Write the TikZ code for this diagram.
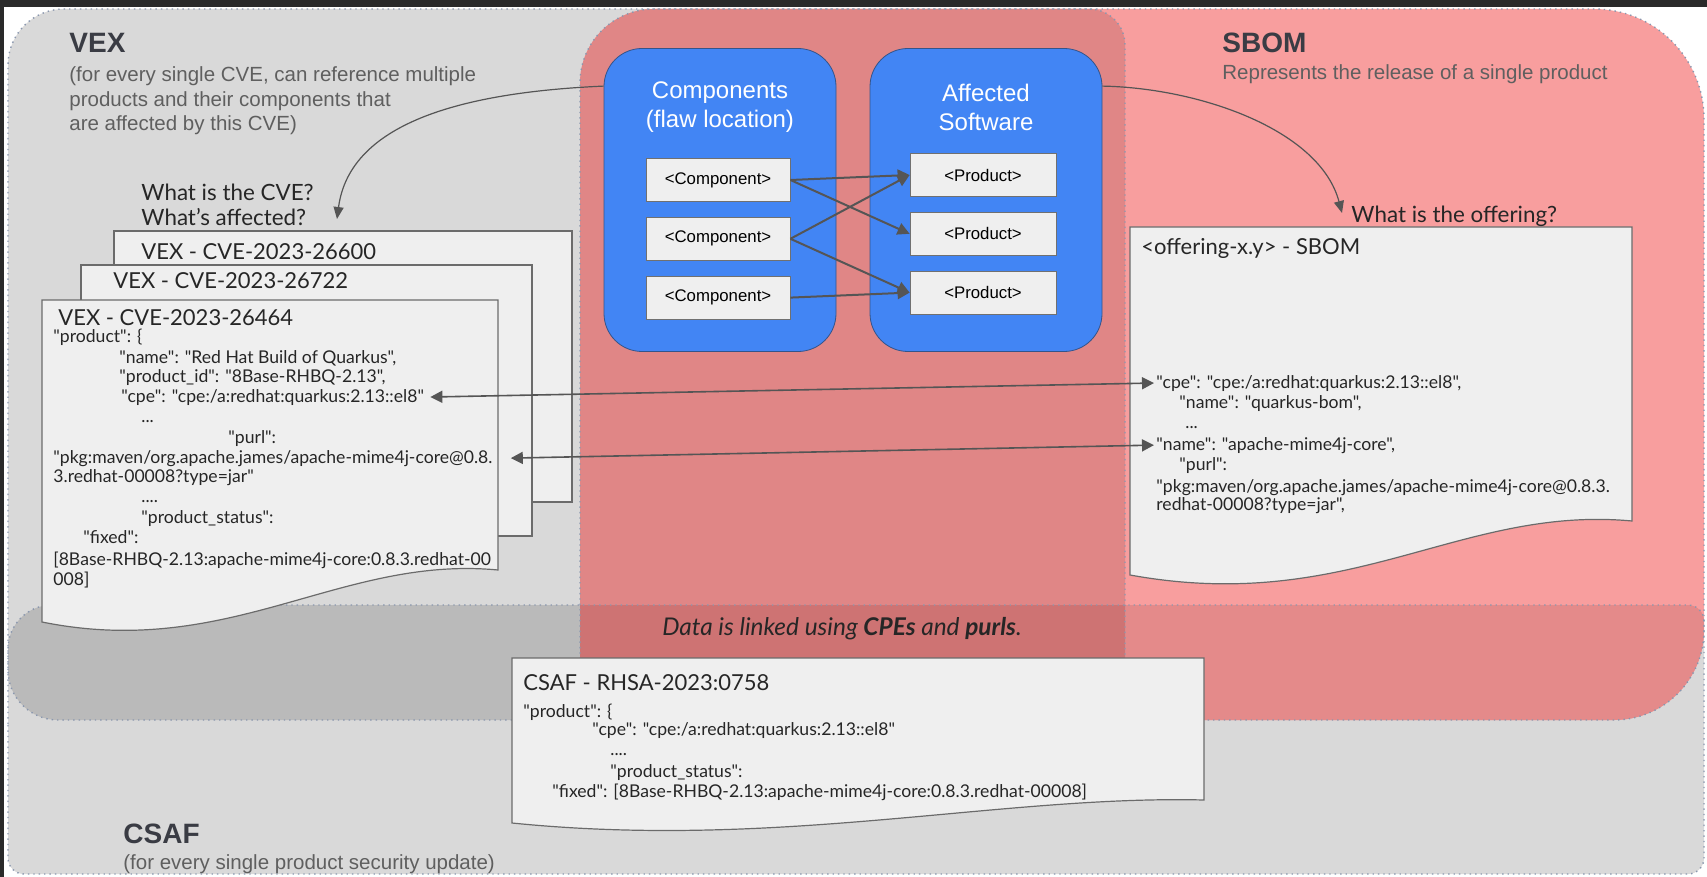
\documentclass[tikz,border=0pt]{standalone}
\usepackage{fontspec}
\setmainfont{Liberation Sans}
\newfontfamily\docfont{Lato}
\usetikzlibrary{arrows.meta, positioning, calc}

\definecolor{vexgray}{HTML}{D9D9D9}
\definecolor{overlapgray}{HTML}{BABABA}
\definecolor{sbompink}{HTML}{F89E9E}
\definecolor{midpink}{HTML}{E08686}
\definecolor{lowpink}{HTML}{E48A8A}
\definecolor{deeppink}{HTML}{CE7373}
\definecolor{gblue}{HTML}{4285F4}
\definecolor{groupedge}{HTML}{34548A}
\definecolor{pagefill}{HTML}{EFEFEF}
\definecolor{pageedge}{HTML}{6B6B6B}
\definecolor{itemedge}{HTML}{707070}
\definecolor{edgeblue}{HTML}{8A97AE}
\definecolor{inkgray}{HTML}{555555}
\definecolor{headink}{HTML}{3A3C44}
\definecolor{notegray}{HTML}{5F5F5F}
\definecolor{docink}{HTML}{262626}
\definecolor{topbar}{HTML}{2A2A2A}

% outlines of the three areas (pixel units, y downwards)
\newcommand{\vexarea}{(8,400) [rounded corners=28pt] -- (8,9) [rounded corners=18pt] -- (1125,9) -- (1125,720) [rounded corners=25pt] -- (8,720) -- cycle}
\newcommand{\sbomarea}{(580,400) [rounded corners=37pt] -- (580,9) [rounded corners=55pt] -- (1704,9) [rounded corners=45pt] -- (1704,720) [rounded corners=30pt] -- (580,720) -- cycle}
\newcommand{\csafarea}{(8,740) [rounded corners=22pt] -- (8,605) [rounded corners=8pt] -- (1704,605) -- (1704,874) -- (8,874) -- cycle}

\begin{document}
\begin{tikzpicture}[x=0.5pt, y=-0.5pt,
  heading/.style={anchor=base west, inner sep=0, text=headink, font=\fontsize{14}{16}\selectfont\bfseries},
  note/.style={anchor=base west, align=left, inner sep=0, text=notegray, font=\fontsize{10.25}{12.25}\selectfont},
  group/.style={rectangle, rounded corners=19pt, draw=groupedge, fill=gblue, minimum width=116pt, minimum height=151.5pt},
  grouptitle/.style={align=center, inner sep=0, text=white, font=\fontsize{12}{14.5}\selectfont},
  item/.style={rectangle, draw=itemedge, fill=pagefill, minimum height=21.5pt, inner sep=0, font=\fontsize{8.4}{10}\selectfont},
  page/.style={draw=pageedge, fill=pagefill, line width=0.6pt},
  doctitle/.style={anchor=base west, inner sep=0, text=docink, font=\docfont\fontsize{11}{13}\selectfont},
  code/.style={anchor=base west, inner sep=0, text=docink, font=\docfont\fontsize{8.8}{10}\selectfont},
  ask/.style={anchor=base west, align=left, inner sep=0, text=docink, font=\docfont\fontsize{11.2}{12.5}\selectfont},
  arrow/.style={draw=inkgray, line width=1pt, -{Triangle[length=6pt, width=6pt]}},
  curved/.style={draw=inkgray, line width=0.6pt, -{Triangle[length=6pt, width=5pt]}},
  link/.style={draw=inkgray, line width=0.8pt, {Triangle[length=6pt, width=6pt]}-{Triangle[length=6pt, width=6pt]}},
  outline/.style={draw=edgeblue, line width=0.7pt, dotted}]

\useasboundingbox (0,0) rectangle (1707,877);
\fill[white] (0,0) rectangle (1707,877);
\fill[topbar] (0,0) rectangle (1707,7);
\fill[topbar] (0,0) rectangle (4,877);

% areas and their overlaps
\fill[vexgray] \vexarea;
\fill[vexgray] \csafarea;
\fill[sbompink] \sbomarea;
\begin{scope}
  \clip \sbomarea;
  \fill[lowpink] \csafarea;
\end{scope}
\begin{scope}
  \clip \vexarea;
  \fill[overlapgray] \csafarea;
  \fill[midpink] \sbomarea;
  \clip \sbomarea;
  \fill[deeppink] \csafarea;
\end{scope}
\draw[outline] \vexarea;
\draw[outline] \sbomarea;
\draw[outline] \csafarea;

% multi-line notes sit on the baseline of their last line
\node[heading] (vexhead) at (69,53) {VEX};
\node[note] (vexnote) at (69,131) {(for every single CVE, can reference multiple\\products and their components that\\are affected by this CVE)};
\node[heading] (sbomhead) at (1222,53) {SBOM};
\node[note] (sbomnote) at (1222,80) {Represents the release of a single product};
\node[heading] (csafhead) at (123,843) {CSAF};
\node[note] (csafnote) at (123,869) {(for every single product security update)};

% components and affected software
\node[group] (comps) at (720,200) {};
\node[group] (softw) at (986,200) {};
\node[grouptitle] (compstitle) at (720,107) {Components\\(flaw location)};
\node[grouptitle] (softwtitle) at (986,107) {Affected\\Software};

\node[item, minimum width=72pt] (comp1) at (718,180) {<Component>};
\node[item, minimum width=72pt, below=7.5pt of comp1] (comp2) {<Component>};
\node[item, minimum width=72pt, below=7.5pt of comp2] (comp3) {<Component>};
\node[item, minimum width=73pt] (prod1) at (983,175) {<Product>};
\node[item, minimum width=73pt, below=7.5pt of prod1] (prod2) {<Product>};
\node[item, minimum width=73pt, below=7.5pt of prod2] (prod3) {<Product>};

\draw[arrow] (comp1.east) -- (prod1.west);
\draw[arrow] (comp1.east) -- (prod2.west);
\draw[arrow] (comp2.east) -- (prod1.west);
\draw[arrow] (comp2.east) -- (prod3.west);
\draw[arrow] (comp3.east) -- (prod3.west);

% VEX documents
\draw[page] (114,231) rectangle (572,502);
\draw[page] (81,265) rectangle (532,536);
\draw[page] (42,300) -- (498,300) -- (498,570) .. controls (340,555) and (230,660) .. (42,622) -- cycle;

\node[ask] (cveq) at (141,226) {What is the CVE?\\What’s affected?};
\node[doctitle] (vex26600) at (141,259) {VEX - CVE-2023-26600};
\node[doctitle] (vex26722) at (113,288) {VEX - CVE-2023-26722};
\node[doctitle] (vex26464) at (58,325) {VEX - CVE-2023-26464};
\node[code] (vexprod) at (53,342) {"product": \{};
\node[code] (vexname) at (119,363) {"name": "Red Hat Build of Quarkus",};
\node[code] (vexid) at (119,382) {"product\_id": "8Base-RHBQ-2.13",};
\node[code] (vexcpe) at (121,402) {"cpe": "cpe:/a:redhat:quarkus:2.13::el8"};
\node[code] (vexdots) at (141,422) {...};
\node[code] (vexpurlkey) at (228,443) {"purl":};
\node[code] (vexpurl) at (53,463) {"pkg:maven/org.apache.james/apache-mime4j-core@0.8.};
\node[code] (vexpurlend) at (53,482) {3.redhat-00008?type=jar"};
\node[code] (vexdots2) at (141,502) {....};
\node[code] (vexstatus) at (141,523) {"product\_status":};
\node[code] (vexfixed) at (83,543) {"fixed":};
\node[code] (vexfixedval) at (53,565) {[8Base-RHBQ-2.13:apache-mime4j-core:0.8.3.redhat-00};
\node[code] (vexfixedend) at (53,585) {008]};

% SBOM document
\draw[page] (1130,227) -- (1632,227) -- (1632,521) .. controls (1460,505) and (1350,615) .. (1130,575) -- cycle;
\node[ask] (offerq) at (1351,223) {What is the offering?};
\node[doctitle] (sbomtitle) at (1141,255) {<offering-x.y> - SBOM};
\node[code] (sbomcpe) at (1156,388) {"cpe": "cpe:/a:redhat:quarkus:2.13::el8",};
\node[code] (sbomname) at (1179,408) {"name": "quarkus-bom",};
\node[code] (sbomdots) at (1185,428) {...};
\node[code] (sbomlib) at (1156,450) {"name": "apache-mime4j-core",};
\node[code] (sbompurlkey) at (1179,470) {"purl":};
\node[code] (sbompurl) at (1156,492) {"pkg:maven/org.apache.james/apache-mime4j-core@0.8.3.};
\node[code] (sbompurlend) at (1156,510) {redhat-00008?type=jar",};

% CSAF document
\node[anchor=base, inner sep=0, text=docink, font=\docfont\fontsize{12.2}{14}\selectfont\itshape] (linknote) at (842,635) {Data is linked using \textbf{CPEs} and \textbf{purls}.};
\draw[page] (512,658) -- (1204,658) -- (1204,800) .. controls (1000,795) and (780,850) .. (512,823) -- cycle;
\node[doctitle] (csaftitle) at (523,690) {CSAF - RHSA-2023:0758};
\node[code] (csafprod) at (523,717) {"product": \{};
\node[code] (csafcpe) at (592,735) {"cpe": "cpe:/a:redhat:quarkus:2.13::el8"};
\node[code] (csafdots) at (610,755) {....};
\node[code] (csafstatus) at (610,777) {"product\_status":};
\node[code] (csaffixed) at (552,797) {"fixed": [8Base-RHBQ-2.13:apache-mime4j-core:0.8.3.redhat-00008]};

% links between the documents
\coordinate (cvefrom) at ($(comps.north west)+(0,38)$);
\coordinate (cveto) at (337,219);
\coordinate (offerfrom) at ($(softw.north east)+(0,38)$);
\coordinate (offerto) at (1342,213);
\draw[curved] (cvefrom) .. controls (470,92) and (350,120) .. (cveto);
\draw[curved] (offerfrom) .. controls (1200,88) and (1320,130) .. (offerto);
\draw[link] ([xshift=3pt]vexcpe.east) -- ([xshift=-1pt]sbomcpe.west);
\draw[link] ([xshift=9pt]vexpurl.east) -- ([xshift=-1pt]sbomlib.west);

\end{tikzpicture}
\end{document}
